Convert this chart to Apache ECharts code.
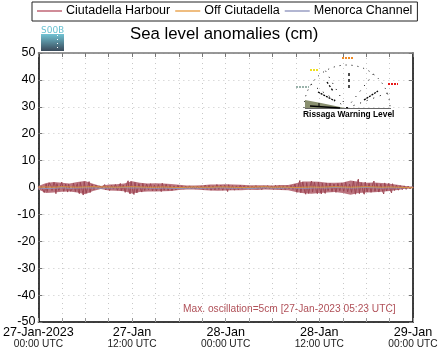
<!DOCTYPE html>
<html><head><meta charset="utf-8">
<style>html,body{margin:0;padding:0;background:#fff}#c{width:442px;height:359px}</style>
<script src="https://cdn.jsdelivr.net/npm/echarts@6/dist/echarts.min.js"></script>
</head><body><div id="c"></div>
<script>
const seriesNames = ['Ciutadella Harbour','Off Ciutadella','Menorca Channel'];
const yTicks = [-50,-40,-30,-20,-10,0,10,20,30,40,50];
const tickDates = ['27-Jan-2023','27-Jan','28-Jan','28-Jan','29-Jan'];
const tickTimes = ['00:00 UTC','12:00 UTC','00:00 UTC','12:00 UTC','00:00 UTC'];
// Harbour: one value every 15 minutes, on the quarter hour
const harbour = [
0.3,-0.6,0.5,-1.9,1.3,-2.2,1.6,-1.1,1.9,-2.3,1.2,-1.6,2.0,
-1.4,1.3,-1.7,1.5,-1.2,1.6,-1.5,1.4,
-2.3,2.4,-2.8,2.7,-2.5,2.2,
-1.6,1.4,-1.2,0.9,-0.8,0.6,-0.6,
1.1,-1.3,1.2,-1.0,1.4,-1.2,1.3,-1.4,1.5,-1.3,1.6,
-2.2,2.5,-2.4,2.9,-2.6,2.4,
-1.9,1.8,-1.7,2.0,-1.6,1.8,-1.5,1.7,
-1.6,1.5,-1.7,1.4,-1.5,1.9,-1.4,1.6,
-1.4,1.3,-1.5,1.1,-1.0,1.2,-0.9,0.8,
-0.7,0.8,-0.6,0.7,-0.8,0.6,-0.7,0.8,-0.6,0.7,
-1.1,1.3,-1.2,1.0,-1.4,1.2,-1.0,1.5,-1.3,1.1,-1.2,1.4,-1.5,1.2,-1.1,1.0,-1.3,1.1,-0.9,1.2,-1.0,
0.8,-0.9,0.7,-1.0,0.9,-0.8,0.7,-0.9,1.0,-0.7,0.8,-1.1,0.8,-0.7,0.9,
-1.0,1.1,-0.9,1.0,-1.2,0.9,-1.0,1.1,-0.8,1.0,-1.1,
2.0,-2.4,2.6,-2.3,2.7,-2.5,2.2,-2.6,2.4,-2.0,2.6,-2.3,1.9,-2.4,
1.9,-2.2,2.1,-1.8,2.3,-2.0,1.7,-2.4,2.0,-1.8,2.2,-2.1,2.6,-2.0,1.9,-2.3,2.9,-3.2,3.1,-2.7,2.4,-2.5,2.6,-2.2,2.0,-2.3,2.4,-2.0,
2.1,-2.2,1.8,-2.4,2.2,-1.9,2.1,-2.0,1.7,-1.8,1.5,-1.4,
1.2,-1.1,1.0,-0.9,0.8,-0.7,0.6,-0.5,0.4,-0.4
];
// Harbour: the readings between those, one per quarter-hour gap
const harbourBetween = [
-0.4,0.4,1.1,-0.7,-1.5,1.8,0.6,-1.7,0.9,1.4,-1.1,-0.5,
1.6,-0.9,0.7,1.2,-1.4,-0.4,1.3,0.5,-1.2,
1.9,-1.2,2.2,-2.1,0.8,-1.9,
1.2,-0.8,0.9,-0.5,0.6,-0.3,0.4,
-0.9,0.5,-1.1,0.8,-0.6,1.1,-1.0,0.7,-1.2,0.9,-1.8,
1.7,-1.3,2.3,-1.5,1.9,-2.0,
1.4,-0.9,1.5,-1.1,1.3,-0.8,1.4,-1.2,
0.9,-1.3,1.1,-0.7,1.6,-1.0,1.2,-1.1,
0.8,-1.1,0.6,-0.9,0.8,-0.5,0.6,-0.6,
0.5,-0.4,0.6,-0.5,0.4,-0.6,0.5,-0.4,0.6,-0.8,
0.9,-0.7,0.8,-1.0,0.6,-0.9,1.1,-0.7,0.9,-1.0,0.8,-0.6,1.0,-0.8,0.7,-1.0,0.6,-0.8,0.9,-0.6,0.7,
-0.5,0.6,-0.7,0.5,-0.4,0.7,-0.6,0.5,-0.8,0.6,-0.5,0.7,-0.4,0.6,-0.7,
0.8,-0.6,0.7,-0.9,0.6,-0.8,0.7,-0.5,0.8,-0.7,1.3,
-1.8,1.5,-1.9,2.1,-1.6,1.8,-2.2,1.4,-1.7,1.9,-1.5,2.0,-1.3,1.6,
-1.4,1.7,-1.2,1.6,-1.5,1.3,-1.8,1.5,-1.2,1.7,-1.4,1.9,-1.6,1.3,-1.8,2.4,-2.5,2.2,-2.3,1.8,-1.7,2.0,-1.6,1.5,-1.8,1.6,-1.4,
1.5,-1.7,1.3,-1.6,1.7,-1.3,1.5,-1.2,1.4,-1.1,0.9,-1.0,
0.7,-0.8,0.6,-0.7,0.5,-0.5,0.4,-0.3,0.2
];
// Harbour: hourly upper and lower edge of the oscillation band
const harbourUpper = [0.6,1.7,2.0,1.8,1.5,2.0,2.4,1.4,0.6,1.1,1.2,1.5,2.3,1.8,1.5,1.6,1.5,1.3,1.0,0.7,0.7,0.8,1.1,1.1,1.2,1.1,1.0,0.8,0.8,0.8,0.7,0.9,0.9,1.6,2.2,2.2,2.1,1.8,1.8,1.9,2.6,2.1,1.8,1.9,1.7,1.4,1.0,0.6,0.3];
const harbourLower = [-0.7,-2.0,-1.9,-1.6,-1.5,-1.9,-2.5,-1.3,-0.6,-1.1,-1.2,-1.4,-2.2,-1.7,-1.5,-1.5,-1.4,-1.3,-0.9,-0.7,-0.7,-0.9,-1.1,-1.2,-1.1,-1.0,-1.0,-0.8,-0.9,-0.7,-0.8,-0.9,-1.0,-1.7,-2.1,-2.3,-2.0,-1.9,-1.7,-2.0,-2.7,-2.0,-1.9,-1.8,-1.6,-1.3,-0.9,-0.5,-0.4];
// Offshore stations: one value per hour
const offCiutadella = [
0.1,0.2,0.1,0.3,0.2,0.1,0.2,0.3,0.2,0.2,0.1,0.2,0.3,0.2,0.1,0.1,0.2,0.1,0.0,0.1,0.2,0.1,0.1,0.2,
0.2,0.1,0.0,0.1,0.2,0.3,0.1,0.2,0.1,0.0,0.1,0.2,0.1,0.2,0.3,0.2,0.1,0.2,0.3,0.2,0.1,0.2,0.1,0.0,-0.1
];
const menorcaChannel = [
-0.2,-0.4,-0.3,-0.1,-0.3,-0.2,-0.1,-0.2,-0.3,-0.2,-0.1,0.0,-0.2,-0.1,-0.2,-0.3,-0.2,-0.3,-0.4,-0.3,-0.2,-0.3,-0.2,-0.1,
-0.2,-0.3,-0.2,-0.4,-0.3,-0.1,-0.2,-0.3,-0.1,-0.2,-0.3,-0.2,-0.1,-0.2,0.0,-0.1,-0.2,-0.1,0.0,-0.1,-0.2,-0.1,-0.2,-0.1,0.1
];
const harbourPairs = [];
harbour.forEach((v,i)=>{
  harbourPairs.push([i*0.25,v]);
  if(i<harbourBetween.length && i<harbour.length-1) harbourPairs.push([i*0.25+0.125,harbourBetween[i]]);
});
const offPairs = offCiutadella.map((v,i)=>[i,v]);
const chanPairs = menorcaChannel.map((v,i)=>[i,v]);
const lowerPairs = harbourLower.map((v,i)=>[i,v]);
const upperPairs = harbourUpper.map((v,i)=>[i,v]);

const dotted = {stroke:'#000',lineWidth:1,lineDash:[1,4]};
function seg(x1,y1,x2,y2,style){return {type:'line',silent:true,z:20,shape:{x1,y1,x2,y2},style:Object.assign({},dotted,style||{})};}
const thinLine = 'path://M0,0L0.001,0ZM0,6H25V8H0ZM0,14L0.001,14Z';

const chart = echarts.init(document.getElementById('c'),null,{renderer:'canvas'});
const common = {type:'value',min:0,max:48,interval:3};
chart.setOption({
  animation:false,
  backgroundColor:'#fff',
  textStyle:{fontFamily:'Liberation Sans'},
  title:{text:'Sea level anomalies (cm)',left:130,top:26,padding:0,
    textStyle:{fontSize:16.8,fontWeight:'normal',color:'#000',fontFamily:'Liberation Sans'}},
  legend:{left:32,top:2,padding:[2,5,3,5],itemGap:5,itemWidth:25,itemHeight:14,
    borderColor:'#222',borderWidth:1,
    textStyle:{fontSize:12.5,color:'#000',fontFamily:'Liberation Sans',padding:[0,0,0,-1]},
    data:[
      {name:seriesNames[0],icon:thinLine,itemStyle:{color:'#d08c98',borderWidth:0,opacity:1}},
      {name:seriesNames[1],icon:thinLine,itemStyle:{color:'#efbd80',borderWidth:0,opacity:1}},
      {name:seriesNames[2],icon:thinLine,itemStyle:{color:'#b2b6d2',borderWidth:0,opacity:1}}
    ]},
  grid:{left:36,right:29,top:53,bottom:37,containLabel:false},
  xAxis:[
    Object.assign({},common,{position:'bottom',
      axisLine:{show:true,onZero:false,lineStyle:{color:'#000',width:1.5}},
      axisTick:{show:true,inside:true,length:4,lineStyle:{color:'#999'}},
      splitLine:{show:true,lineStyle:{color:'#c8c8c8',type:[1,4],width:1}},
      axisLabel:{show:true,showMinLabel:true,showMaxLabel:true,hideOverlap:false,margin:4,
        alignMinLabel:'center',alignMaxLabel:'center',
        formatter:v=>{ if(v%12!==0) return ''; const k=v/12; return '{d|'+tickDates[k]+'}\n{t|'+tickTimes[k]+'}'; },
        rich:{d:{fontSize:12.6,color:'#000',fontFamily:'Liberation Sans',lineHeight:13},
              t:{fontSize:10.2,color:'#222',fontFamily:'Liberation Sans',lineHeight:11}}}}),
    Object.assign({},common,{position:'top',
      axisLine:{show:true,onZero:false,lineStyle:{color:'#777',width:1.5}},
      axisTick:{show:true,inside:true,length:4,lineStyle:{color:'#777'}},
      axisLabel:{show:false},splitLine:{show:false}})
  ],
  yAxis:[
    {type:'value',min:-50,max:50,interval:10,position:'left',
      axisLine:{show:true,onZero:false,lineStyle:{color:'#000',width:1.5}},
      axisTick:{show:true,inside:true,length:4,lineStyle:{color:'#777'}},
      splitLine:{show:true,lineStyle:{color:'#c8c8c8',type:[1,4],width:1}},
      axisLabel:{show:true,margin:3,fontSize:12.5,color:'#000',fontFamily:'Liberation Sans',
        customValues:yTicks}},
    {type:'value',min:-50,max:50,interval:10,position:'right',
      axisLine:{show:true,onZero:false,lineStyle:{color:'#000',width:1.5}},
      axisTick:{show:true,inside:true,length:4,lineStyle:{color:'#777'}},
      axisLabel:{show:false},splitLine:{show:false}}
  ],
  series:[
    {name:'band lower',type:'line',data:lowerPairs,symbol:'none',z:2,lineStyle:{width:0,opacity:0},areaStyle:{color:'#bb747f',opacity:1,origin:0}},
    {name:'band upper',type:'line',data:upperPairs,symbol:'none',z:2,lineStyle:{width:0,opacity:0},areaStyle:{color:'#bb747f',opacity:1,origin:0}},
    {name:seriesNames[0],type:'line',data:harbourPairs,symbol:'none',sampling:null,z:3,itemStyle:{color:'#d08c98'},lineStyle:{color:'#9c4552',width:1}},
    {name:seriesNames[1],type:'line',data:offPairs,symbol:'none',z:5,itemStyle:{color:'#efbd80'},lineStyle:{color:'#d8923c',width:1}},
    {name:seriesNames[2],type:'line',data:chanPairs,symbol:'none',z:4,itemStyle:{color:'#b2b6d2'},lineStyle:{color:'#8f93b8',width:1}}
  ],
  graphic:[
    // SOOB logo
    {type:'text',silent:true,left:41,top:26,style:{text:'SOOB',font:'9.5px "DejaVu Sans Mono"',fill:'#6cc3d2'}},
    {type:'rect',silent:true,shape:{x:41,y:34,width:23,height:17},
      style:{fill:new echarts.graphic.LinearGradient(0,0,0,1,[{offset:0,color:'#71c4d4'},{offset:1,color:'#39495a'}])}},
    seg(57.5,35,57.5,50,{stroke:'#fff',lineDash:[1,3]}),
    // Rissaga warning gauge
    {type:'polygon',silent:true,z:20,shape:{points:[[305,100],[321,103],[345,108],[305,108]]},style:{fill:'#8a9070'}},
    seg(305,108.5,391,108.5,{stroke:'#666',lineDash:null}),
    seg(310,106,340,108,{stroke:'#000',lineDash:null,lineWidth:1.5}),
    seg(319,103,319,107,{stroke:'#000',lineDash:null}),
    {type:'arc',silent:true,z:20,shape:{cx:347,cy:108,r:43,startAngle:Math.PI,endAngle:2*Math.PI},style:{stroke:'#000',lineWidth:1,lineDash:[1,5],fill:null}},
    seg(347,108,311,84,{lineDash:[1,6]}),seg(347,108,325,70,{lineDash:[1,6]}),seg(347,108,375,72,{lineDash:[1,6]}),seg(347,108,390,92,{lineDash:[1,6]}),
    seg(318,92,335,101,{lineDash:[2,1],lineWidth:1.3}),
    seg(327,82,333,91,{lineDash:[2,2],lineWidth:1.3}),
    seg(349,73,349,90,{lineDash:[3,3],lineWidth:1.4}),
    seg(364,100,378,91,{lineDash:[2,1],lineWidth:1.3}),
    seg(342,58,353,58,{stroke:'#f08a24',lineDash:[2,1],lineWidth:2}),
    seg(310,70,318,70,{stroke:'#f0e020',lineDash:[2,1],lineWidth:2}),
    seg(296,87,309,87,{stroke:'#7a9a90',lineDash:[2,1],lineWidth:1.5}),
    seg(388,84,398,84,{stroke:'#e81818',lineDash:[2,1],lineWidth:2}),
    {type:'text',silent:true,z:20,left:303,top:111,style:{text:'Rissaga Warning Level',font:'bold 8.4px "Liberation Sans"',fill:'#000'}},
    // Max oscillation note
    {type:'text',silent:true,z:20,left:183,top:304,style:{text:'Max. oscillation=5cm [27-Jan-2023 05:23 UTC]',font:'10.2px "Liberation Sans"',fill:'#b05058'}}
  ]
});
</script></body></html>
